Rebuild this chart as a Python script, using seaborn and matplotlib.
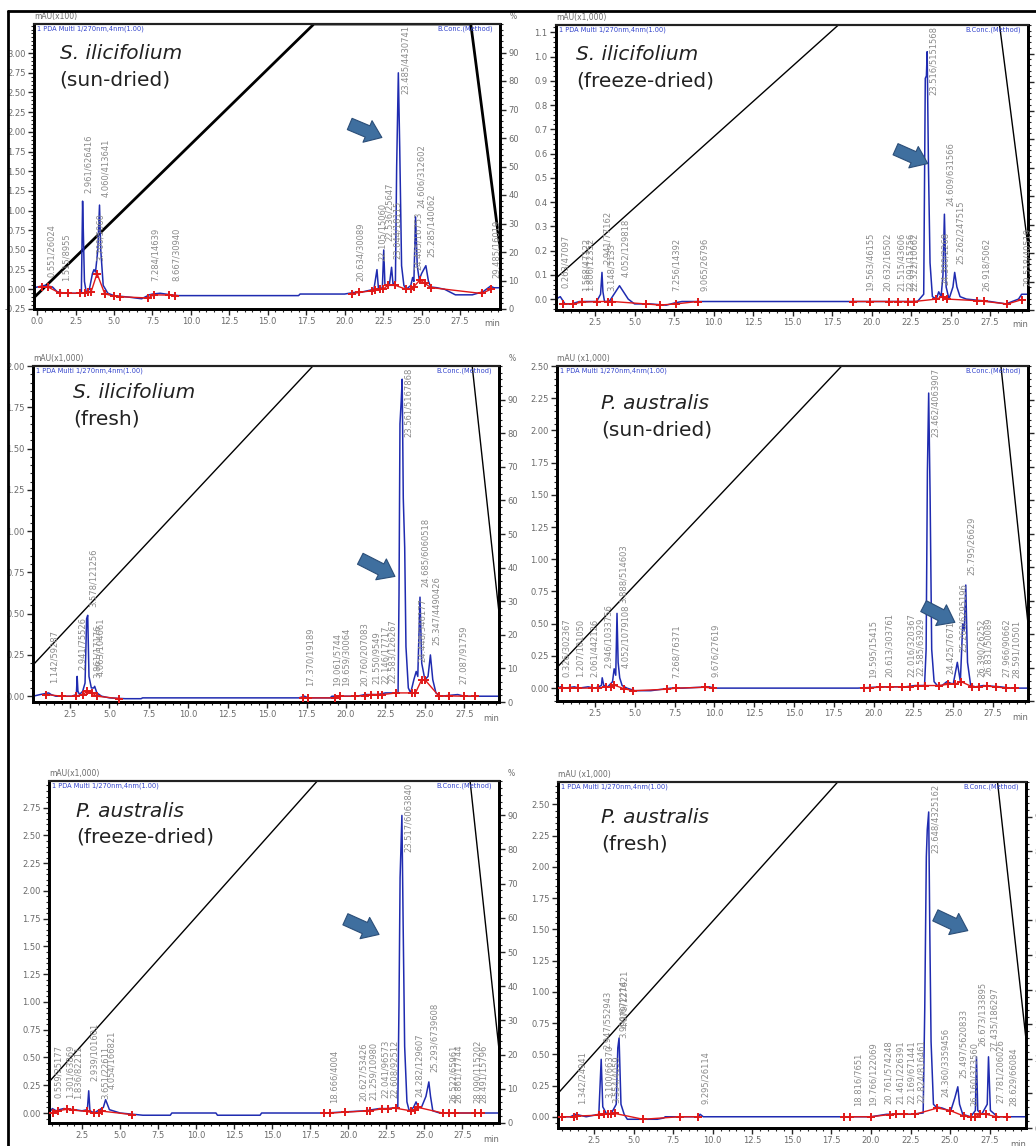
import numpy as np
import matplotlib
matplotlib.use("Agg")
import matplotlib.pyplot as plt
from matplotlib.ticker import FixedLocator, MultipleLocator, FormatStrFormatter
import seaborn as sns

sns.set_theme(style="white")
plt.rcParams["font.family"] = ["DejaVu Sans"]

# ---------------- S. ilicifolium (sun-dried) ----------------
sis_t = [-0.2, 0.5, 1.0, 1.3, 1.8, 2.5, 2.88, 2.96, 3.0, 3.08, 3.2, 3.4, 3.6, 3.7, 3.8, 3.95, 4.06, 4.14, 4.3,
         4.6, 5.0, 6.0, 6.8, 7.3, 7.5, 8.0, 8.7, 9.2, 17.0, 17.1, 20.0, 20.6, 21.0, 21.9, 22.1, 22.2, 22.45,
         22.54, 22.62, 22.9, 23.05, 23.15, 23.3, 23.38, 23.49, 23.58, 23.7, 23.85, 24.0, 24.3, 24.42, 24.5,
         24.61, 24.72, 24.85, 25.0, 25.28, 25.45, 25.6, 26.0, 26.5, 27.0, 27.2, 28.3, 29.0, 29.48, 29.7, 30.1]
sis_y = [0.02, 0.05, 0.03, -0.03, -0.05, -0.05, -0.04, 1.12, 0.8, 0.1, -0.04, 0.0, 0.2, 0.25, 0.22, 0.5,
         1.07, 0.5, 0.05, -0.05, -0.08, -0.1, -0.12, -0.07, -0.06, -0.05, -0.07, -0.08, -0.08, -0.06, -0.06,
         -0.04, -0.04, 0.0, 0.25, 0.0, 0.02, 0.5, 0.05, 0.05, 0.28, 0.05, 0.1, 1.55, 2.75, 1.8, 0.3, 0.05,
         0.0, 0.05, 0.15, 0.1, 0.92, 0.3, 0.12, 0.2, 0.3, 0.1, 0.03, 0.02, 0.0, -0.05, -0.07, -0.07, -0.03,
         0.04, 0.02, 0.02]
sis_marks = [0.3, 0.7, 1.5, 2.0, 2.8, 3.1, 3.3, 3.5, 3.9, 4.4, 5.0, 5.4, 7.2, 7.6, 8.6, 9.0, 20.5, 20.9,
             21.8, 22.0, 22.3, 22.5, 22.8, 23.3, 24.0, 24.3, 24.5, 24.9, 25.2, 25.6, 28.9, 29.5]
sis_labels = [(0.55, "0.551/26024"), (1.515, "1.515/8955"), (2.96, "2.961/626416"), (3.70, "3.700/5060"),
              (4.06, "4.060/413641"), (7.28, "7.284/14639"), (8.67, "8.667/30940"), (20.63, "20.634/30089"),
              (22.10, "22.105/15060"), (22.54, "22.536/25647"), (23.05, "23.044/18115"),
              (23.49, "23.485/4430741"), (24.41, "24.405/16753"), (24.61, "24.606/312602"),
              (25.28, "25.285/140062"), (29.49, "29.485/16019")]
sis_grad_t = [-0.2, 18.0, 28.2, 30.5]
sis_grad_p = [4, 100, 100, 5]

# ---------------- S. ilicifolium (freeze-dried) ----------------
sif_t = [0.03, 0.3, 0.6, 1.0, 1.5, 2.0, 2.6, 2.85, 2.94, 3.0, 3.1, 3.4, 3.7, 3.9, 4.05, 4.3, 4.6, 5.0, 6.0,
         7.0, 7.6, 8.0, 9.0, 16.5, 18.5, 20.0, 22.0, 22.9, 23.3, 23.4, 23.47, 23.52, 23.6, 23.7, 23.85, 24.1,
         24.25, 24.4, 24.52, 24.61, 24.72, 24.9, 25.15, 25.26, 25.4, 25.6, 26.0, 27.5, 28.5, 29.3, 29.5, 29.9]
sif_y = [0.0, 0.01, -0.02, -0.02, -0.01, -0.01, -0.01, 0.02, 0.11, 0.03, -0.01, -0.01, 0.02, 0.04, 0.055,
         0.03, 0.0, -0.02, -0.02, -0.025, -0.015, -0.01, -0.01, -0.01, -0.01, -0.01, -0.01, -0.01, 0.02,
         0.91, 0.92, 1.02, 0.55, 0.15, 0.01, 0.0, 0.03, 0.01, 0.10, 0.35, 0.05, 0.0, 0.05, 0.11, 0.05, 0.01,
         0.0, -0.01, -0.02, 0.0, 0.02, 0.02]
sif_marks = [0.45, 1.1, 1.65, 2.65, 3.3, 3.6, 5.7, 6.6, 7.6, 9.0, 18.8, 19.9, 21.1, 21.7, 22.3, 22.7, 24.1,
             24.5, 24.8, 26.7, 27.1, 28.6, 29.5]
sif_labels = [(0.26, "0.263/47097"), (1.57, "1.568/47122"), (1.81, "1.806/12352"), (2.94, "2.941/77162"),
              (3.15, "3.148/5133"), (4.05, "4.052/129818"), (7.25, "7.256/14392"), (9.06, "9.065/26796"),
              (19.56, "19.563/46155"), (20.63, "20.632/16502"), (21.52, "21.515/43606"),
              (22.09, "22.091/15756"), (22.32, "22.322/10662"), (23.52, "23.516/5151568"),
              (24.30, "24.300/2268"), (24.61, "24.609/631566"), (25.26, "25.262/247515"),
              (26.92, "26.918/5062"), (29.52, "29.518/40519")]
sif_grad_t = [0.0, 17.9, 28.1, 30.3]
sif_grad_p = [11, 100, 100, 5]

# ---------------- S. ilicifolium (fresh) ----------------
sin_t = [0.15, 0.6, 1.14, 1.3, 1.6, 2.6, 2.9, 2.95, 3.0, 3.1, 3.3, 3.45, 3.55, 3.62, 3.7, 3.85, 4.0, 4.06,
         4.2, 4.5, 5.0, 6.0, 7.0, 7.1, 17.0, 17.37, 17.6, 19.0, 19.1, 20.7, 21.2, 22.0, 22.5, 23.3, 23.36,
         23.42, 23.5, 23.56, 23.63, 23.72, 23.8, 23.95, 24.1, 24.3, 24.45, 24.55, 24.69, 24.8, 25.0, 25.2,
         25.35, 25.5, 25.7, 26.0, 27.08, 27.5, 28.5, 29.7]
sin_y = [0.0, 0.01, 0.02, 0.01, 0.0, 0.0, 0.01, 0.12, 0.03, 0.01, 0.03, 0.08, 0.47, 0.49, 0.12, 0.05, 0.05,
         0.06, 0.02, 0.0, -0.01, -0.015, -0.015, -0.01, -0.01, 0.0, -0.01, -0.01, 0.0, 0.0, 0.01, 0.01, 0.02,
         0.02, 0.62, 1.65, 1.79, 1.92, 1.2, 0.9, 0.3, 0.05, 0.02, 0.1, 0.15, 0.12, 0.60, 0.2, 0.1, 0.12, 0.25,
         0.1, 0.02, 0.0, 0.01, 0.0, 0.0, 0.0]
sin_marks = [1.0, 2.0, 2.9, 3.3, 3.6, 3.9, 4.2, 5.6, 17.3, 17.6, 19.3, 19.6, 20.6, 21.2, 21.6, 22.0, 22.3,
             23.2, 24.2, 24.4, 24.8, 25.0, 25.9, 26.5, 27.5, 28.2]
sin_labels = [(1.14, "1.142/59287"), (2.94, "2.941/75526"), (3.58, "3.578/121256"), (3.86, "3.861/17176"),
              (4.06, "4.063/104661"), (17.37, "17.370/19189"), (19.06, "19.061/5744"),
              (19.66, "19.659/30064"), (20.76, "20.760/207083"), (21.55, "21.550/9549"),
              (22.15, "22.146/17717"), (22.58, "22.583/126267"), (23.56, "23.561/5167868"),
              (24.44, "24.448/346177"), (24.69, "24.685/6060518"), (25.35, "25.347/4490426"),
              (27.08, "27.087/91759")]
sin_grad_t = [0.15, 17.9, 28.0, 30.2]
sin_grad_p = [11, 100, 100, 5]

# ---------------- P. australis (sun-dried) ----------------
pas_t = [0.11, 0.33, 0.6, 1.2, 1.5, 2.06, 2.5, 2.9, 2.95, 3.05, 3.3, 3.6, 3.7, 3.8, 3.88, 3.95, 4.05, 4.2,
         4.5, 5.0, 6.0, 7.26, 8.0, 9.68, 10.0, 19.0, 20.6, 22.0, 22.6, 23.2, 23.3, 23.38, 23.46, 23.55, 23.65,
         23.8, 24.0, 24.3, 24.6, 25.0, 25.26, 25.45, 25.6, 25.7, 25.79, 25.9, 26.1, 26.4, 26.9, 27.97, 28.6,
         29.7]
pas_y = [0.0, 0.01, 0.0, 0.01, 0.0, 0.01, 0.0, 0.02, 0.08, 0.02, 0.01, 0.05, 0.15, 0.1, 0.58, 0.2, 0.08,
         0.02, 0.0, -0.02, -0.02, 0.0, 0.0, 0.01, 0.0, 0.0, 0.01, 0.01, 0.02, 0.02, 0.3, 1.68, 2.29, 1.49, 0.3,
         0.05, 0.02, 0.02, 0.05, 0.03, 0.2, 0.05, 0.5, 0.45, 0.8, 0.2, 0.02, 0.01, 0.02, 0.01, 0.0, 0.0]
pas_marks = [0.4, 0.9, 1.4, 2.3, 2.7, 3.2, 3.5, 3.7, 4.3, 4.9, 7.0, 7.6, 9.4, 9.9, 19.4, 19.8, 20.4, 21.0,
             21.8, 22.3, 22.8, 23.2, 24.1, 24.7, 25.1, 25.5, 26.2, 26.6, 27.1, 27.7, 28.3, 28.9]
pas_labels = [(0.33, "0.326/302367"), (1.21, "1.207/101050"), (2.06, "2.061/442126"),
              (2.95, "2.946/1033756"), (3.88, "3.888/514603"), (4.05, "4.052/1079108"),
              (7.26, "7.268/76371"), (9.68, "9.676/27619"), (19.60, "19.595/15415"),
              (20.61, "20.613/303761"), (22.02, "22.016/320367"), (22.59, "22.585/63929"),
              (23.46, "23.462/4063907"), (24.43, "24.425/76711"), (25.26, "25.260/6295196"),
              (25.79, "25.795/26629"), (26.39, "26.390/26252"), (26.83, "26.831/50089"),
              (27.97, "27.966/90662"), (28.59, "28.591/10501")]
pas_grad_t = [0.11, 18.0, 28.0, 30.1]
pas_grad_p = [10, 100, 100, 5]

# ---------------- P. australis (freeze-dried) ----------------
paf_t = [0.33, 0.55, 0.8, 1.0, 1.3, 2.0, 2.5, 2.85, 2.94, 3.02, 3.3, 3.65, 3.9, 4.05, 4.3, 5.0, 6.5, 8.3,
         8.4, 11.3, 11.4, 14.2, 14.3, 18.5, 21.1, 22.04, 22.6, 23.25, 23.33, 23.4, 23.52, 23.6, 23.7, 23.85,
         24.0, 24.28, 24.45, 24.6, 24.8, 25.1, 25.29, 25.4, 25.55, 26.0, 27.0, 28.5, 29.9]
paf_y = [0.0, 0.04, 0.02, 0.03, 0.04, 0.03, 0.02, 0.03, 0.2, 0.02, 0.0, 0.03, 0.05, 0.12, 0.03, 0.0, -0.02,
         -0.02, 0.0, 0.0, -0.02, -0.02, 0.0, 0.0, 0.02, 0.04, 0.04, 0.05, 1.0, 2.12, 2.68, 1.71, 0.6, 0.1,
         0.02, 0.05, 0.1, 0.05, 0.05, 0.15, 0.28, 0.15, 0.02, 0.0, 0.0, 0.0, 0.0]
paf_marks = [0.6, 0.9, 1.5, 1.9, 2.8, 3.3, 3.6, 3.8, 5.8, 18.4, 18.8, 19.8, 21.2, 21.4, 22.2, 22.6, 23.1,
             24.1, 24.4, 24.6, 26.2, 26.6, 27.0, 28.3, 28.7]
paf_labels = [(0.55, "0.559/25177"), (1.30, "1.301/63869"), (1.83, "1.836/82211"),
              (2.94, "2.939/101601"), (3.65, "3.651/22611"), (4.05, "4.054/166821"),
              (18.67, "18.666/4004"), (20.63, "20.627/53426"), (21.26, "21.259/10980"),
              (22.04, "22.041/96573"), (22.61, "22.608/92512"), (23.52, "23.517/6063840"),
              (24.28, "24.282/129607"), (25.29, "25.293/6739608"), (26.52, "26.522/65961"),
              (26.86, "26.861/17744"), (28.09, "28.090/115202"), (28.49, "28.491/15796")]
paf_grad_t = [0.33, 17.96, 28.0, 30.3]
paf_grad_p = [12, 100, 100, 5]

# ---------------- P. australis (fresh) ----------------
pan_t = [0.22, 1.0, 1.34, 2.0, 2.8, 2.95, 3.05, 3.3, 3.6, 3.9, 4.0, 4.08, 4.2, 4.4, 4.6, 6.5, 6.9, 7.0, 9.1,
         9.2, 9.4, 18.5, 20.0, 21.0, 22.5, 23.3, 23.4, 23.5, 23.56, 23.65, 23.72, 23.8, 23.95, 24.1, 24.5,
         24.9, 25.05, 25.3, 25.49, 25.6, 25.8, 26.3, 26.6, 26.67, 26.75, 27.0, 27.35, 27.43, 27.55, 28.0,
         29.0, 29.8]
pan_y = [0.0, 0.0, 0.02, 0.0, 0.02, 0.46, 0.08, 0.02, 0.03, 0.1, 0.55, 0.63, 0.1, 0.02, -0.02, -0.02, -0.01,
         0.0, 0.0, 0.02, 0.0, 0.0, 0.0, 0.02, 0.02, 0.03, 0.86, 2.08, 2.30, 2.44, 1.48, 0.6, 0.1, 0.08, 0.07,
         0.05, 0.05, 0.15, 0.24, 0.1, 0.02, 0.0, 0.05, 0.48, 0.05, 0.02, 0.1, 0.48, 0.05, 0.0, 0.0, 0.0]
pan_marks = [0.5, 1.2, 1.4, 2.8, 3.1, 3.4, 3.6, 3.8, 5.6, 7.9, 9.1, 18.3, 18.7, 20.0, 21.2, 21.6, 22.1,
             22.8, 24.2, 25.0, 25.9, 26.3, 26.6, 26.9, 27.3, 27.9, 28.6]
pan_labels = [(1.34, "1.342/24941"), (2.95, "2.947/552943"), (3.10, "3.100/66370"),
              (3.55, "3.554/4059"), (4.00, "3.999/672214"), (4.08, "4.079/127621"),
              (9.20, "9.295/26114"), (18.82, "18.816/7651"), (19.77, "19.766/122069"),
              (20.76, "20.761/574248"), (21.46, "21.461/226391"), (22.17, "22.169/671441"),
              (22.82, "22.824/816461"), (23.65, "23.648/4325162"), (24.36, "24.360/3359456"),
              (25.50, "25.497/5620833"), (26.16, "26.160/373560"), (26.67, "26.673/133895"),
              (27.44, "27.435/186297"), (27.78, "27.781/206026"), (28.63, "28.629/66084")]
pan_grad_t = [0.22, 17.9, 28.0, 30.3]
pan_grad_p = [10, 100, 100, 5]

# panel layout: pixel box (left, top, right, bottom), limits, tick step and text
panels = [
    dict(t=sis_t, y=sis_y, marks=sis_marks, labels=sis_labels, gt=sis_grad_t, gp=sis_grad_p,
         box=(34, 24, 500, 309), xlim=(-0.2, 30.1), ylim=(-0.25, 3.37), step=0.25, ytop=3.0, fmt="%.2f",
         unit="mAU(x100)", name="S. ilicifolium", state="(sun-dried)", txt=(0.055, 0.93),
         arrow=((0.672, 0.653), (0.752, 0.598)), glw=2.0),
    dict(t=sif_t, y=sif_y, marks=sif_marks, labels=sif_labels, gt=sif_grad_t, gp=sif_grad_p,
         box=(556, 25, 1028, 310), xlim=(0.03, 29.9), ylim=(-0.045, 1.13), step=0.1, ytop=1.1, fmt="%.1f",
         unit="mAU(x1,000)", name="S. ilicifolium", state="(freeze-dried)", txt=(0.042, 0.93),
         arrow=((0.714, 0.568), (0.793, 0.510)), glw=1.0),
    dict(t=sin_t, y=sin_y, marks=sin_marks, labels=sin_labels, gt=sin_grad_t, gp=sin_grad_p,
         box=(33, 366, 499, 702), xlim=(0.15, 29.7), ylim=(-0.035, 2.0), step=0.25, ytop=2.0, fmt="%.2f",
         unit="mAU(x1,000)", name="S. ilicifolium", state="(fresh)", txt=(0.086, 0.95),
         arrow=((0.697, 0.43), (0.782, 0.370)), glw=1.0),
    dict(t=pas_t, y=pas_y, marks=pas_marks, labels=pas_labels, gt=pas_grad_t, gp=pas_grad_p,
         box=(557, 366, 1028, 701), xlim=(0.11, 29.7), ylim=(-0.1, 2.5), step=0.25, ytop=2.5, fmt="%.2f",
         unit="mAU (x1,000)", name="P. australis", state="(sun-dried)", txt=(0.093, 0.915),
         arrow=((0.773, 0.287), (0.850, 0.231)), glw=1.0),
    dict(t=paf_t, y=paf_y, marks=paf_marks, labels=paf_labels, gt=paf_grad_t, gp=paf_grad_p,
         box=(49, 781, 499, 1123), xlim=(0.33, 29.9), ylim=(-0.09, 2.99), step=0.25, ytop=2.75, fmt="%.2f",
         unit="mAU(x1,000)", name="P. australis", state="(freeze-dried)", txt=(0.06, 0.94),
         arrow=((0.653, 0.599), (0.739, 0.548)), glw=1.0),
    dict(t=pan_t, y=pan_y, marks=pan_marks, labels=pan_labels, gt=pan_grad_t, gp=pan_grad_p,
         box=(558, 782, 1026, 1128), xlim=(0.22, 29.8), ylim=(-0.09, 2.68), step=0.25, ytop=2.5, fmt="%.2f",
         unit="mAU (x1,000)", name="P. australis", state="(fresh)", txt=(0.092, 0.925),
         arrow=((0.801, 0.618), (0.881, 0.567)), glw=1.0),
]

W, H = 1036, 1146
fig = plt.figure(figsize=(W / 100, H / 100), dpi=100)
fig.patch.set_facecolor("white")

# table frame on the left and top
fig.add_artist(plt.Line2D([8 / W, 8 / W], [0, 1 - 11 / H], color="black", lw=2))
fig.add_artist(plt.Line2D([8 / W, 1], [1 - 11 / H, 1 - 11 / H], color="black", lw=2))

TRACE = "#1f2bb0"
GREY = "#6a6a6a"
RED = "#e01818"

for p in panels:
    l, t, r, b = p["box"]
    ax = fig.add_axes([l / W, 1 - b / H, (r - l) / W, (b - t) / H])
    ax.set_facecolor("white")
    ax2 = ax.twinx()
    ax.set_zorder(ax2.get_zorder() + 1)
    ax.patch.set_visible(False)

    # gradient programme on the % axis
    sns.lineplot(x=p["gt"], y=p["gp"], ax=ax2, color="black", linewidth=p["glw"],
                 estimator=None, sort=False)
    ax2.set_ylim(0, 100)
    ax2.set_xlim(*p["xlim"])

    # chromatogram trace
    sns.lineplot(x=p["t"], y=p["y"], ax=ax, color=TRACE, linewidth=1.1, estimator=None, sort=False)

    # integration baseline and markers (sit on the lowest trace level near each mark)
    mt = np.array(p["marks"])
    my = np.array([np.interp(np.linspace(m - 0.3, m + 0.3, 13), p["t"], p["y"]).min() for m in mt])
    groups = np.split(np.arange(len(mt)), np.where(np.diff(mt) > 3.5)[0] + 1)
    for g in groups:
        ax.plot(mt[g], my[g], color=RED, lw=1.0, zorder=3)
    sns.scatterplot(x=mt, y=my, ax=ax, marker="+", s=40, color=RED, linewidth=1.4, zorder=4)

    ax.set_xlim(*p["xlim"])
    ax.set_ylim(*p["ylim"])
    ymin, ymax = p["ylim"]

    # retention time / area labels
    for lt, txt in p["labels"]:
        h = float(np.interp(lt, p["t"], p["y"]))
        if h > 0.6 * ymax:
            ax.annotate(txt, xy=(lt, ymax), xytext=(1.5, -1), textcoords="offset points",
                        rotation=90, ha="left", va="top", fontsize=6, color="#8a8a8a")
        else:
            ax.annotate(txt, xy=(lt, max(h, 0) + 0.03 * (ymax - ymin)), xytext=(1, 0),
                        textcoords="offset points", rotation=90, ha="left", va="bottom",
                        fontsize=6, color="#8a8a8a")

    # axes styling
    xt = [v for v in np.arange(0, 27.6, 2.5) if v >= p["xlim"][0]]
    ax.xaxis.set_major_locator(FixedLocator(xt))
    ax.xaxis.set_minor_locator(MultipleLocator(0.5))
    ax.xaxis.set_major_formatter(FormatStrFormatter("%.1f"))
    step = p["step"]
    first = np.ceil(ymin / step - 1e-9) * step
    yt = [float(round(v, 3)) + 0.0 for v in np.arange(first, p["ytop"] + 1e-6, step)]
    yt = [0.0 if abs(v) < 1e-9 else v for v in yt]
    ax.yaxis.set_major_locator(FixedLocator(yt))
    ax.yaxis.set_minor_locator(MultipleLocator(step / 5))
    ax.yaxis.set_major_formatter(FormatStrFormatter(p["fmt"]))
    ax.tick_params(axis="both", which="major", direction="out", length=4, width=1,
                   labelsize=6, labelcolor=GREY, pad=2, bottom=True, left=True)
    ax.tick_params(axis="both", which="minor", direction="out", length=2, width=0.8,
                   bottom=True, left=True)
    ax2.set_yticks(range(0, 100, 10))
    ax2.yaxis.set_minor_locator(MultipleLocator(2))
    ax2.tick_params(axis="y", which="major", direction="out", length=4, width=1, labelsize=6,
                    labelcolor=GREY, pad=2, right=True)
    ax2.tick_params(axis="y", which="minor", direction="out", length=2, width=0.8, right=True)
    ax.set_xlabel("")
    ax.set_ylabel("")
    ax2.set_ylabel("")
    for a in (ax, ax2):
        for side in ("left", "bottom", "right"):
            a.spines[side].set_linewidth(2.0)
            a.spines[side].set_color("black")
        a.spines["top"].set_linewidth(1.5)
        a.spines["top"].set_color("#222222")

    ax.text(0.0, 1.01, p["unit"], transform=ax.transAxes, ha="left", va="bottom", fontsize=5.5,
            color=GREY)
    ax.text(1.02, 1.01, "%", transform=ax.transAxes, ha="left", va="bottom", fontsize=5.5, color=GREY)
    ax.text(1.0, -0.035, "min", transform=ax.transAxes, ha="right", va="top", fontsize=6, color=GREY)
    ax.text(0.006, 0.995, "1 PDA Multi 1/270nm,4nm(1.00)", transform=ax.transAxes, ha="left",
            va="top", fontsize=4.8, color="#3344cc")
    ax.text(0.985, 0.995, "B.Conc.(Method)", transform=ax.transAxes, ha="right", va="top",
            fontsize=4.8, color="#3344cc")

    # sample name
    tx, ty = p["txt"]
    ax.annotate(p["name"], xy=(tx, ty), xycoords="axes fraction", ha="left", va="top",
                fontsize=14.5, style="italic", color="#222222")
    ax.annotate(p["state"], xy=(tx, ty), xycoords="axes fraction", xytext=(0, -19),
                textcoords="offset points", ha="left", va="top", fontsize=14.5, color="#222222")

    # highlighted peak arrow
    (x0, y0), (x1, y1) = p["arrow"]
    ax.annotate("", xy=(x1, y1), xytext=(x0, y0), xycoords="axes fraction",
                arrowprops=dict(arrowstyle="simple,head_length=0.7,head_width=1.05,tail_width=0.55",
                                mutation_scale=16, fc="#3f6f9f", ec="#2b4e78", lw=0.8))

fig.savefig("out.png", dpi=100, facecolor="white")
